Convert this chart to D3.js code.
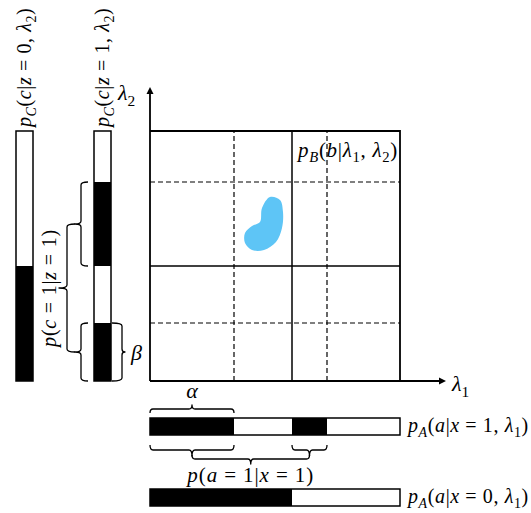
<!DOCTYPE html>
<html lang="en">
<head>
    <meta charset="UTF-8">
    <title>Hidden variable model</title>
    <script src="https://d3js.org/d3.v7.min.js"></script>
    <style>body { margin: 0; background: #fff; }</style>
</head>
<body>
    <script>
        // grid positions along lambda1 / lambda2 (0..1)
        const lambda1Solid = [0.568];
        const lambda1Dashed = [0.336, 0.708];
        const lambda2Solid = [0.46];
        const lambda2Dashed = [0.232, 0.796];

        // black segments of each response bar
        const barA1 = [[0, 0.336], [0.568, 0.708]];
        const barA0 = [[0, 0.568]];
        const barC0 = [[0, 0.46]];
        const barC1 = [[0, 0.232], [0.46, 0.796]];

        // outline of the blue region (lambda1, lambda2)
        const blob = [
            [0.48, 0.736], [0.52, 0.724], [0.532, 0.676], [0.528, 0.612],
            [0.504, 0.556], [0.456, 0.524], [0.408, 0.524], [0.38, 0.552],
            [0.38, 0.592], [0.408, 0.62], [0.44, 0.636], [0.448, 0.692]
        ];

        const width = 531, height = 513;
        const FONT = "'Liberation Serif', serif";
        const svg = d3.select("body").append("svg")
            .attr("width", width).attr("height", height);

        const x = d3.scaleLinear().domain([0, 1]).range([150, 400]);
        const y = d3.scaleLinear().domain([0, 1]).range([381, 131]);

        // text made of pieces: i italic, n upright, si / sn subscript
        function mathText(sel, parts, size, spacing) {
            const t = sel.append("text")
                .attr("font-family", FONT)
                .attr("font-size", size)
                .attr("letter-spacing", spacing || 0)
                .attr("fill", "black");
            let shift = 0;
            parts.forEach(([s, k]) => {
                const sub = k[0] === "s";
                const target = sub ? size * 0.25 : 0;
                t.append("tspan")
                    .attr("dy", target - shift)
                    .attr("font-size", sub ? size * 0.7 : size)
                    .attr("font-style", k.endsWith("i") ? "italic" : "normal")
                    .text(s);
                shift = target;
            });
            return t;
        }

        // curly-ish brackets
        function hBrace(x0, x1, yy, dir, h, tip) {
            const r = 3, xm = (x0 + x1) / 2, yl = yy + dir * h;
            return `M${x0},${yy} Q${x0},${yl} ${x0 + r},${yl} H${xm - r} Q${xm},${yl} ${xm},${yl + dir * tip}` +
                ` Q${xm},${yl} ${xm + r},${yl} H${x1 - r} Q${x1},${yl} ${x1},${yy}`;
        }
        function vBrace(y0, y1, xx, dir, h, tip) {
            const r = 3, ym = (y0 + y1) / 2, xl = xx + dir * h;
            const s = y1 > y0 ? 1 : -1;
            return `M${xx},${y0} Q${xl},${y0} ${xl},${y0 + s * r} V${ym - s * r} Q${xl},${ym} ${xl + dir * tip},${ym}` +
                ` Q${xl},${ym} ${xl},${ym + s * r} V${y1 - s * r} Q${xl},${y1} ${xx},${y1}`;
        }
        function brace(d) {
            svg.append("path").attr("d", d)
                .attr("fill", "none").attr("stroke", "black")
                .attr("stroke-width", 1.3).attr("stroke-linejoin", "round");
        }

        // blob
        svg.append("path")
            .attr("d", d3.line().x(d => x(d[0])).y(d => y(d[1])).curve(d3.curveCatmullRomClosed)(blob))
            .attr("fill", "#5ec5f6");

        // grid
        const grid = svg.append("g").attr("stroke", "black").attr("fill", "none");
        lambda1Dashed.forEach(v => grid.append("line")
            .attr("x1", x(v)).attr("x2", x(v)).attr("y1", y(0)).attr("y2", y(1))
            .attr("stroke-width", 1.2).attr("stroke-dasharray", "5,3"));
        lambda2Dashed.forEach(v => grid.append("line")
            .attr("x1", x(0)).attr("x2", x(1)).attr("y1", y(v)).attr("y2", y(v))
            .attr("stroke-width", 1.2).attr("stroke-dasharray", "5,3"));
        lambda1Solid.forEach(v => grid.append("line")
            .attr("x1", x(v)).attr("x2", x(v)).attr("y1", y(0)).attr("y2", y(1))
            .attr("stroke-width", 1.5));
        lambda2Solid.forEach(v => grid.append("line")
            .attr("x1", x(0)).attr("x2", x(1)).attr("y1", y(v)).attr("y2", y(v))
            .attr("stroke-width", 1.5));
        grid.append("path")
            .attr("d", `M${x(0)},${y(1)} H${x(1)} V${y(0)}`)
            .attr("stroke-width", 1.8);

        // axes with arrows
        svg.append("path")
            .attr("d", `M${x(0)},${y(0)} H441 M${x(0)},${y(0)} V92`)
            .attr("stroke", "black").attr("stroke-width", 1.8).attr("fill", "none");
        svg.append("path").attr("d", "M446,381 L439,377.5 L439,384.5 Z").attr("fill", "black");
        svg.append("path").attr("d", "M150,87 L146.5,94 L153.5,94 Z").attr("fill", "black");

        mathText(svg, [["λ", "i"], ["1", "sn"]], 22).attr("x", 452).attr("y", 391);
        mathText(svg, [["λ", "i"], ["2", "sn"]], 22).attr("x", 118).attr("y", 100);
        mathText(svg, [["p", "i"], ["B", "si"], ["(", "n"], ["b", "i"], ["|", "n"], ["λ", "i"], ["1", "sn"],
            [", ", "n"], ["λ", "i"], ["2", "sn"], [")", "n"]], 21, 0.7)
            .attr("x", 398).attr("y", 157).attr("text-anchor", "end");

        // horizontal bars
        function hBar(segs, yy) {
            segs.forEach(s => svg.append("rect")
                .attr("x", x(s[0])).attr("y", yy).attr("width", x(s[1]) - x(s[0])).attr("height", 17)
                .attr("fill", "black"));
            svg.append("rect").attr("x", x(0)).attr("y", yy).attr("width", x(1) - x(0)).attr("height", 17)
                .attr("fill", "none").attr("stroke", "black").attr("stroke-width", 1.5);
        }
        hBar(barA1, 418);
        hBar(barA0, 489);

        // vertical bars
        function vBar(segs, xx) {
            segs.forEach(s => svg.append("rect")
                .attr("x", xx).attr("y", y(s[1])).attr("width", 17).attr("height", y(s[0]) - y(s[1]))
                .attr("fill", "black"));
            svg.append("rect").attr("x", xx).attr("y", y(1)).attr("width", 17).attr("height", y(0) - y(1))
                .attr("fill", "none").attr("stroke", "black").attr("stroke-width", 1.5);
        }
        vBar(barC0, 16);
        vBar(barC1, 94);

        const pA1 = [["p", "i"], ["A", "si"], ["(", "n"], ["a", "i"], ["|", "n"], ["x", "i"], [" = 1, ", "n"],
            ["λ", "i"], ["1", "sn"], [")", "n"]];
        const pA0 = [["p", "i"], ["A", "si"], ["(", "n"], ["a", "i"], ["|", "n"], ["x", "i"], [" = 0, ", "n"],
            ["λ", "i"], ["1", "sn"], [")", "n"]];
        mathText(svg, pA1, 20, 0.6).attr("x", 408).attr("y", 432);
        mathText(svg, pA0, 20, 0.6).attr("x", 408).attr("y", 503);

        // brackets on the lambda1 bar
        brace(hBrace(x(barA1[0][0]), x(barA1[0][1]), 413, -1, 4, 4));
        mathText(svg, [["α", "i"]], 22).attr("x", (x(barA1[0][0]) + x(barA1[0][1])) / 2).attr("y", 398)
            .attr("text-anchor", "middle");
        barA1.forEach(s => brace(hBrace(x(s[0]), x(s[1]), 445, 1, 5, 6)));
        const m0 = (x(barA1[0][0]) + x(barA1[0][1])) / 2, m1 = (x(barA1[1][0]) + x(barA1[1][1])) / 2;
        brace(hBrace(m0, m1, 455, 1, 4, 5));
        mathText(svg, [["p", "i"], ["(", "n"], ["a", "i"], [" = 1|", "n"], ["x", "i"], [" = 1)", "n"]], 21, 0.9)
            .attr("x", (m0 + m1) / 2).attr("y", 482).attr("text-anchor", "middle");

        // brackets on the lambda2 bar
        barC1.forEach(s => brace(vBrace(y(s[1]), y(s[0]), 88, -1, 7, 6)));
        const n0 = (y(barC1[0][0]) + y(barC1[0][1])) / 2, n1 = (y(barC1[1][0]) + y(barC1[1][1])) / 2;
        brace(vBrace(n1, n0, 75, -1, 8, 8));
        mathText(svg, [["p", "i"], ["(", "n"], ["c", "i"], [" = 1|", "n"], ["z", "i"], [" = 1)", "n"]], 20, 0.8)
            .attr("text-anchor", "middle")
            .attr("transform", `translate(56,${(n0 + n1) / 2}) rotate(-90)`);
        brace(vBrace(y(barC1[0][1]), y(barC1[0][0]), 112, 1, 10, 3));
        mathText(svg, [["β", "i"]], 22).attr("x", 131).attr("y", n0 + 8);

        // rotated bar labels
        const pC0 = [["p", "i"], ["C", "si"], ["(", "n"], ["c", "i"], ["|", "n"], ["z", "i"], [" = 0, ", "n"],
            ["λ", "i"], ["2", "sn"], [")", "n"]];
        const pC1 = [["p", "i"], ["C", "si"], ["(", "n"], ["c", "i"], ["|", "n"], ["z", "i"], [" = 1, ", "n"],
            ["λ", "i"], ["2", "sn"], [")", "n"]];
        mathText(svg, pC0, 20, 0.6).attr("transform", "translate(31,127) rotate(-90)");
        mathText(svg, pC1, 20, 0.6).attr("transform", "translate(109,127) rotate(-90)");
    </script>
</body>
</html>
